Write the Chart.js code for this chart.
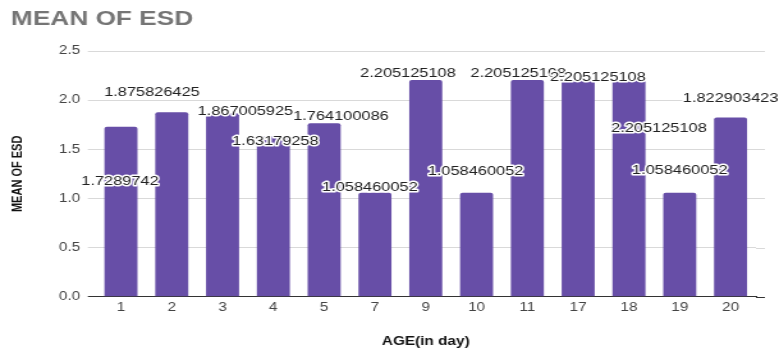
<!DOCTYPE html>
<html>
<head>
<meta charset="utf-8">
<script src="https://cdn.jsdelivr.net/npm/chart.js@4/dist/chart.umd.min.js"></script>
<style>
  html, body { margin: 0; padding: 0; background: #fff; overflow: hidden; }
  #wrap { width: 609px; height: 349px; transform: scaleX(1.2791); transform-origin: 0 0; }
</style>
</head>
<body>
<div id="wrap"><canvas id="chart" width="609" height="349"></canvas></div>
<script>
// Age groups (days) and mean ESD per group
const ages = ['1', '2', '3', '4', '5', '7', '9', '10', '11', '17', '18', '19', '20'];
const meanEsd = [1.7289742, 1.875826425, 1.867005925, 1.63179258, 1.764100086, 1.058460052,
                 2.205125108, 1.058460052, 2.205125108, 2.205125108, 2.205125108, 1.058460052, 1.822903423];
const yTicks = [0, 0.5, 1, 1.5, 2, 2.5];

// Where each value label sits: vertical anchor on the value axis, horizontal shift in category widths
const labelAnchor = [1.17, 2.08, 1.88, 1.58, 1.83, 1.11, 2.27, 1.27, 2.27, 2.23, 1.71, 1.28, 2.02];
const labelShift = [-0.02, -0.39, 0.45, 0.04, 0.33, -0.1, -0.35, -0.02, -0.18, 0.39, 0.59, 0, 0];

const BAR = '#674ea7';

const valueLabels = {
  id: 'valueLabels',
  afterDatasetsDraw(chart) {
    const { ctx, scales: { x, y } } = chart;
    const step = x.getPixelForValue(1) - x.getPixelForValue(0);
    ctx.save();
    ctx.font = '12.8px "Liberation Sans", Arial, sans-serif';
    ctx.textAlign = 'center';
    ctx.textBaseline = 'middle';
    ctx.lineJoin = 'round';
    meanEsd.forEach((v, i) => {
      const px = x.getPixelForValue(i) + labelShift[i] * step;
      const py = y.getPixelForValue(labelAnchor[i]);
      const txt = String(v);
      ctx.strokeStyle = '#ffffff';
      ctx.lineWidth = 3;
      ctx.strokeText(txt, px, py);
      ctx.fillStyle = '#222222';
      ctx.fillText(txt, px, py);
    });
    ctx.restore();
  }
};

// carries the horizontal gridlines a little past the plot's right edge
const gridTail = {
  id: 'gridTail',
  beforeDatasetsDraw(chart) {
    const { ctx, chartArea, scales: { y } } = chart;
    ctx.save();
    ctx.lineWidth = 1;
    y.ticks.forEach(t => {
      const py = Math.round(y.getPixelForValue(t.value)) + 0.5;
      ctx.strokeStyle = t.value === 0 ? '#333333' : '#d9d9d9';
      ctx.beginPath();
      ctx.moveTo(chartArea.right, py);
      ctx.lineTo(chartArea.right + 7, py);
      ctx.stroke();
    });
    ctx.restore();
  }
};

new Chart(document.getElementById('chart'), {
  type: 'bar',
  data: {
    labels: ages,
    datasets: [{
      label: 'MEAN OF ESD',
      data: meanEsd,
      backgroundColor: BAR,
      borderRadius: 2,
      borderSkipped: 'bottom',
      barPercentage: 0.65,
      categoryPercentage: 1
    }]
  },
  options: {
    responsive: false,
    animation: false,
    devicePixelRatio: 1,
    layout: { padding: { left: 8.6, right: 18, top: 0, bottom: 0 } },
    plugins: {
      legend: { display: false },
      tooltip: { enabled: false },
      title: {
        display: true,
        text: 'MEAN OF ESD',
        align: 'start',
        color: '#757575',
        font: { family: '"Liberation Sans", Arial, sans-serif', size: 20.5, weight: 'bold', lineHeight: 1.2 },
        padding: { top: 7, bottom: 19.4 }
      }
    },
    scales: {
      x: {
        grid: { display: false, drawTicks: false },
        border: { display: true, color: '#333333', width: 1 },
        ticks: {
          color: '#444444',
          padding: 4,
          maxRotation: 0,
          font: { family: '"Liberation Sans", Arial, sans-serif', size: 12 }
        },
        title: {
          display: true,
          text: 'AGE(in day)',
          color: '#111111',
          font: { family: '"Liberation Sans", Arial, sans-serif', size: 12, weight: 'bold', lineHeight: 1.2 },
          padding: { top: 0, bottom: 0 }
        },
        afterFit(scale) { scale.height = 52.3; }
      },
      y: {
        min: 0,
        max: 2.5,
        afterBuildTicks(scale) { scale.ticks = yTicks.map(v => ({ value: v })); },
        grid: {
          color: ctx => (ctx.tick && ctx.tick.value === 0 ? '#333333' : '#d9d9d9'),
          tickLength: 6,
          lineWidth: 1
        },
        border: { display: false },
        ticks: {
          color: '#444444',
          padding: 6,
          font: { family: '"Liberation Sans", Arial, sans-serif', size: 12 },
          callback: v => Number(v).toFixed(1)
        },
        title: {
          display: true,
          text: 'MEAN OF ESD',
          color: '#111111',
          font: { family: '"Liberation Sans", Arial, sans-serif', size: 11, weight: 'bold', lineHeight: 1 },
          padding: { top: 0, bottom: 0 }
        },
        afterFit(scale) { scale.width = 66.1; }
      }
    }
  },
  plugins: [valueLabels, gridTail]
});
</script>
</body>
</html>
